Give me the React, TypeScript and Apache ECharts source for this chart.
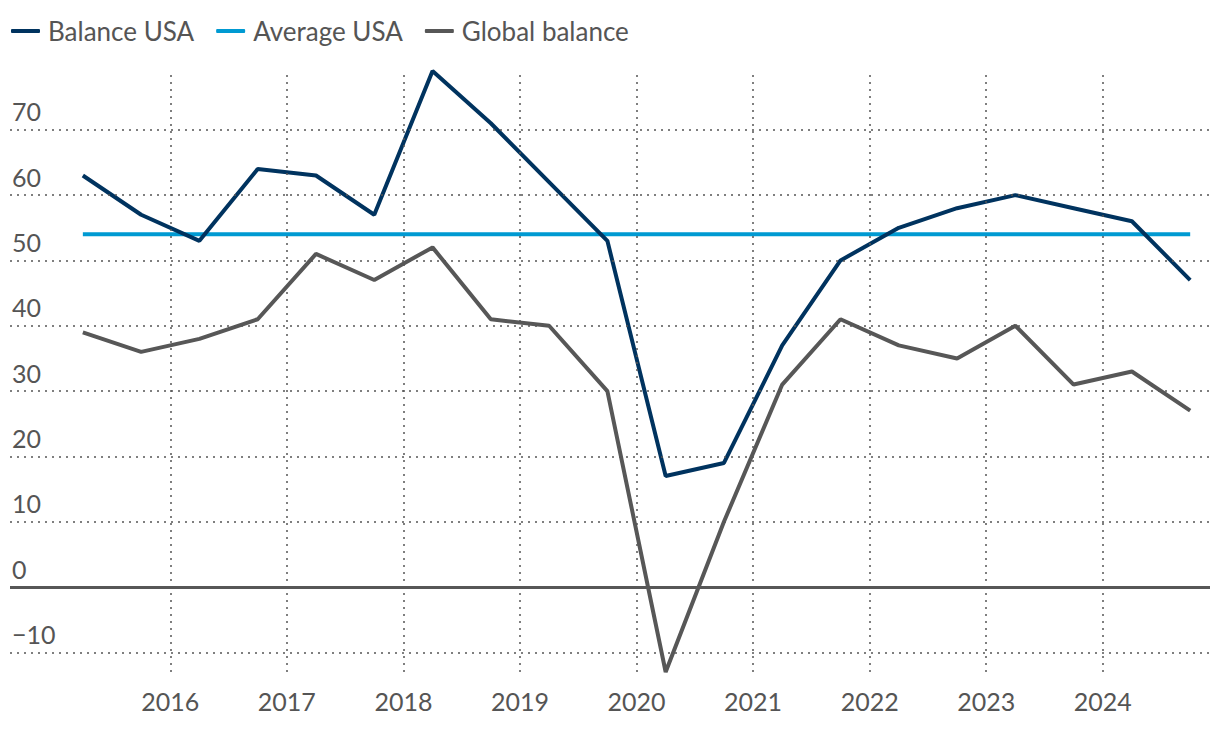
import { useEffect, useRef } from 'react';
import * as echarts from 'echarts';

// Survey periods (April and October of each year)
const periods = [
  '2015-04', '2015-10', '2016-04', '2016-10', '2017-04', '2017-10',
  '2018-04', '2018-10', '2019-04', '2019-10', '2020-04', '2020-10',
  '2021-04', '2021-10', '2022-04', '2022-10', '2023-04', '2023-10',
  '2024-04', '2024-10',
];
const balanceUSA = [63, 57, 53, 64, 63, 57, 79, 71, 62, 53, 17, 19, 37, 50, 55, 58, 60, 58, 56, 47];
const globalBalance = [39, 36, 38, 41, 51, 47, 52, 41, 40, 30, -13, 10, 31, 41, 37, 35, 40, 31, 33, 27];
const averageUSA = 54;

const yTickValues = [-10, 0, 10, 20, 30, 40, 50, 60, 70];
const yearTicks = [2016, 2017, 2018, 2019, 2020, 2021, 2022, 2023, 2024];

const FONT = 'Lato, "Noto Sans", sans-serif';
const TEXT = '#555555';
const NAVY = '#00335f';
const SKY = '#009ad2';
const GREY = '#575757';

const toYear = (p: string) => {
  const [y, m] = p.split('-').map(Number);
  return y + (m - 1) / 12;
};
const xs = periods.map(toYear);

export default function App() {
  const ref = useRef<HTMLDivElement>(null);
  useEffect(() => {
    const chart = echarts.init(ref.current!, null, { renderer: 'svg' });
    const dotted = { type: [2, 5], color: '#555', width: 1.5 };
    chart.setOption({
      animation: false,
      grid: { left: 10, right: 10, top: 71, bottom: 58, containLabel: false, outerBoundsMode: 'none' },
      legend: {
        data: ['Balance USA', 'Average USA', 'Global balance'],
        left: 11,
        top: 18,
        padding: 0,
        icon: 'roundRect',
        itemWidth: 29,
        itemHeight: 4,
        itemGap: 22,
        textStyle: { fontSize: 26, color: TEXT, fontFamily: FONT, padding: [0, 0, 0, 3] },
        selectedMode: false,
      },
      xAxis: {
        type: 'value',
        min: 2014.625,
        max: 2024.92,
        splitNumber: 10,
        axisLine: { show: false },
        axisTick: { show: false },
        splitLine: { show: false },
        axisLabel: {
          margin: 29,
          verticalAlign: 'middle',
          fontSize: 25,
          color: TEXT,
          fontFamily: FONT,
          formatter: (v: number) => (yearTicks.includes(v) ? String(v) : ''),
        },
      },
      yAxis: {
        type: 'value',
        min: -13,
        max: 79,
        splitNumber: 9,
        axisLine: { show: false },
        axisTick: { show: false },
        splitLine: { show: false },
        axisLabel: {
          inside: true,
          margin: 2,
          align: 'left',
          verticalAlign: 'bottom',
          lineHeight: 25,
          padding: [0, 0, 6, 0],
          fontSize: 25,
          color: TEXT,
          fontFamily: FONT,
          showMinLabel: false,
          showMaxLabel: false,
          formatter: (v: number) =>
            yTickValues.includes(v) ? (v < 0 ? '\u2212' + Math.abs(v) : String(v)) : '',
        },
      },
      series: [
        {
          name: 'gridlines',
          type: 'line',
          data: [],
          silent: true,
          z: 1,
          markLine: {
            silent: true,
            symbol: ['none', 'none'],
            label: { show: false },
            emphasis: { disabled: true },
            data: [
              ...yTickValues
                .filter((v) => v !== 0)
                .map((v) => ({ yAxis: v, lineStyle: dotted })),
              ...yearTicks.map((v) => ({ xAxis: v, lineStyle: dotted })),
              { yAxis: 0, lineStyle: { type: 'solid', color: GREY, width: 2.8 } },
            ],
          },
        },
        {
          name: 'Average USA',
          type: 'line',
          z: 3,
          symbol: 'none',
          silent: true,
          itemStyle: { color: SKY },
          lineStyle: { color: SKY, width: 4 },
          data: xs.map((x) => [x, averageUSA]),
        },
        {
          name: 'Global balance',
          type: 'line',
          z: 3,
          symbol: 'none',
          silent: true,
          itemStyle: { color: GREY },
          lineStyle: { color: GREY, width: 4 },
          data: xs.map((x, i) => [x, globalBalance[i]]),
        },
        {
          name: 'Balance USA',
          type: 'line',
          z: 4,
          symbol: 'none',
          silent: true,
          itemStyle: { color: NAVY },
          lineStyle: { color: NAVY, width: 4 },
          data: xs.map((x, i) => [x, balanceUSA[i]]),
        },
      ],
    });
    return () => chart.dispose();
  }, []);
  return (
    <div
      ref={ref}
      style={{ position: 'absolute', left: 0, top: 0, width: 1220, height: 730 }}
    />
  );
}
